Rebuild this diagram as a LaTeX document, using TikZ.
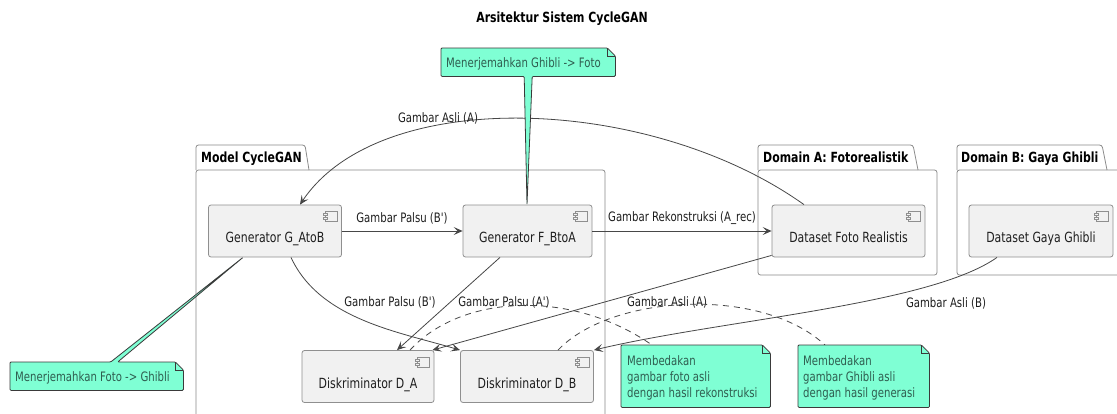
\documentclass[tikz,border=0pt]{standalone}
\usepackage{fontspec}
\setmainfont{DejaVu Sans}[FakeStretch=0.78, Ligatures=TeXOff]
\usetikzlibrary{arrows.meta}
\definecolor{compfill}{HTML}{F1F1F1}
\definecolor{compline}{HTML}{8F8F8F}
\definecolor{pkgline}{HTML}{8A8A8A}
\definecolor{notefill}{HTML}{7FFFD4}
\definecolor{noteline}{HTML}{3A3A3A}
\definecolor{notetext}{HTML}{2F5E50}
\definecolor{edgecol}{HTML}{474747}
\definecolor{txtcol}{HTML}{1E1E1E}
\tikzset{
  comp/.style={draw=compline, fill=compfill, rounded corners=2.5pt, minimum height=52pt, inner sep=0pt, line width=0.8pt},
  comptext/.style={anchor=base, inner sep=0pt, text=txtcol, font=\fontsize{14}{16}\selectfont},
  iconst/.style={draw=compline, line width=0.6pt},
  pkgst/.style={draw=pkgline, line width=0.8pt, rounded corners=2.5pt},
  pkgtitle/.style={anchor=base west, inner sep=0pt, text=black, font=\bfseries\fontsize{14}{16}\selectfont},
  lbl/.style={inner sep=0pt, text=txtcol, font=\fontsize{13}{15}\selectfont},
  edge/.style={draw=edgecol, line width=0.8pt, -{Stealth[length=9pt,width=8pt,inset=4pt]}},
  dashedge/.style={draw=edgecol, line width=0.8pt, dash pattern=on 6pt off 5pt},
  notearea/.style={anchor=north west, inner sep=0pt},
  noteshape/.style={draw=noteline, fill=notefill, line width=0.8pt, rounded corners=1pt},
  notetxt/.style={anchor=north west, inner sep=0pt, align=left, text=notetext, font=\fontsize{13}{16}\selectfont},
}
\newcommand\mkcomp[5]{%
  \node[comp, minimum width=#4pt] (#1) at (#2,#3) {};
  \node[comptext] at ([yshift=-11.5pt]#1.center) {#5};
  \draw[iconst, fill=compfill] ([xshift=-17pt,yshift=-7pt]#1.north east) rectangle ([xshift=-5pt,yshift=-17pt]#1.north east);
  \draw[iconst, fill=compfill] ([xshift=-19pt,yshift=-9pt]#1.north east) rectangle ([xshift=-15pt,yshift=-11pt]#1.north east);
  \draw[iconst, fill=compfill] ([xshift=-19pt,yshift=-13pt]#1.north east) rectangle ([xshift=-15pt,yshift=-15pt]#1.north east);
}
\begin{document}
\begin{tikzpicture}[x=1pt,y=-1pt]
\useasboundingbox (0,0) rectangle (1117,413);
\clip (0,0) rectangle (1117,413);
\fill[white] (0,0) rectangle (1117,413);

% title
\node[inner sep=0pt, font=\bfseries\fontsize{14}{16}\selectfont, text=black] (title) at (562,19) {Arsitektur Sistem CycleGAN};

% packages
\draw[pkgst] (196,170) -- (196,145) -- (305,145) -- (309,170);
\draw[pkgst] (196,170) rectangle (605,440);
\node[pkgtitle] (pm) at (201,162) {Model CycleGAN};
\draw[pkgst] (758,170) -- (758,145) -- (913,145) -- (918,170);
\draw[pkgst] (758,170) rectangle (937,275);
\node[pkgtitle] (pa) at (763,162) {Domain A: Fotorealistik};
\draw[pkgst] (957,170) -- (957,145) -- (1102,145) -- (1107,170);
\draw[pkgst] (957,170) rectangle (1140,275);
\node[pkgtitle] (pb) at (961,162) {Domain B: Gaya Ghibli};

% components
\mkcomp{gab}{275}{231}{133}{Generator G\_AtoB}
\mkcomp{fba}{527.5}{231}{129}{Generator F\_BtoA}
\mkcomp{dfr}{848.5}{231}{153}{Dataset Foto Realistis}
\mkcomp{dgg}{1041}{231}{144}{Dataset Gaya Ghibli}
\mkcomp{da}{368}{376.5}{132}{Diskriminator D\_A}
\mkcomp{db}{527}{376.5}{133}{Diskriminator D\_B}

% note areas
\node[notearea, minimum width=174pt, minimum height=28pt] (nt) at (441,48) {};
\node[notearea, minimum width=173pt, minimum height=28pt] (nl) at (10,362) {};
\node[notearea, minimum width=149pt, minimum height=62pt] (n1) at (621,345) {};
\node[notearea, minimum width=131pt, minimum height=62pt] (n2) at (798,345) {};

% edges
\draw[edge] ([xshift=-44.5pt]dfr.north) .. controls (650,95) and (380,85) .. ([xshift=25pt]gab.north);
\node[lbl] (l1) at (438,118) {Gambar Asli (A)};
\draw[edge] (gab.east) -- (fba.west);
\node[lbl] (l2) at (402,218) {Gambar Palsu (B')};
\draw[edge] (fba.east) -- (dfr.west);
\node[lbl] (l3) at (682,218) {Gambar Rekonstruksi (A\_rec)};
\draw[edge] ([xshift=16pt]gab.south) .. controls (320,320) and (400,332) .. ([xshift=-67pt]db.north);
\node[lbl] (l4) at (390,302) {Gambar Palsu (B')};
\draw[edge] ([xshift=-27.5pt]fba.south) -- ([xshift=29pt]da.north);
\node[lbl] (l5) at (504,302) {Gambar Palsu (A')};
\draw[edge] ([yshift=2pt]dfr.south west) -- ([xshift=-2pt]da.north east);
\node[lbl] (l6) at (667,302) {Gambar Asli (A)};
\draw[edge] ([xshift=-44pt]dgg.south) .. controls (930,305) and (720,320) .. (db.north east);
\node[lbl] (l7) at (946,303) {Gambar Asli (B)};

% dashed note links
\draw[dashedge] ([xshift=42pt]da.north) .. controls (460,295) and (570,288) .. ([xshift=31pt]n1.north west);
\draw[dashedge] ([xshift=31pt]db.north) .. controls (610,295) and (760,285) .. ([xshift=27pt]n2.north west);

% notes
\draw[noteshape] (nt.north west) -- ([xshift=-8pt]nt.north east) -- ([yshift=-8pt]nt.north east) -- (nt.south east) -- ([xshift=4pt]nt.south) -- ([xshift=-0.5pt]fba.north) -- ([xshift=-4pt]nt.south) -- (nt.south west) -- cycle;
\draw[draw=noteline, line width=0.8pt] ([xshift=-8pt]nt.north east) |- ([yshift=-8pt]nt.north east);
\node[notetxt] at ([xshift=5pt,yshift=-9pt]nt.north west) {Menerjemahkan Ghibli -> Foto};

\draw[noteshape] (nl.north west) -- ([xshift=14pt]nl.north) -- ([xshift=-32pt]gab.south) -- ([xshift=21pt]nl.north) -- ([xshift=-8pt]nl.north east) -- ([yshift=-8pt]nl.north east) -- (nl.south east) -- (nl.south west) -- cycle;
\draw[draw=noteline, line width=0.8pt] ([xshift=-8pt]nl.north east) |- ([yshift=-8pt]nl.north east);
\node[notetxt] at ([xshift=5pt,yshift=-9pt]nl.north west) {Menerjemahkan Foto -> Ghibli};

\draw[noteshape] (n1.north west) -- ([xshift=-8pt]n1.north east) -- ([yshift=-8pt]n1.north east) -- (n1.south east) -- (n1.south west) -- cycle;
\draw[draw=noteline, line width=0.8pt] ([xshift=-8pt]n1.north east) |- ([yshift=-8pt]n1.north east);
\node[notetxt] at ([xshift=6pt,yshift=-10pt]n1.north west) {Membedakan\\gambar foto asli\\dengan hasil rekonstruksi};

\draw[noteshape] (n2.north west) -- ([xshift=-8pt]n2.north east) -- ([yshift=-8pt]n2.north east) -- (n2.south east) -- (n2.south west) -- cycle;
\draw[draw=noteline, line width=0.8pt] ([xshift=-8pt]n2.north east) |- ([yshift=-8pt]n2.north east);
\node[notetxt] at ([xshift=5pt,yshift=-10pt]n2.north west) {Membedakan\\gambar Ghibli asli\\dengan hasil generasi};
\end{tikzpicture}
\end{document}
